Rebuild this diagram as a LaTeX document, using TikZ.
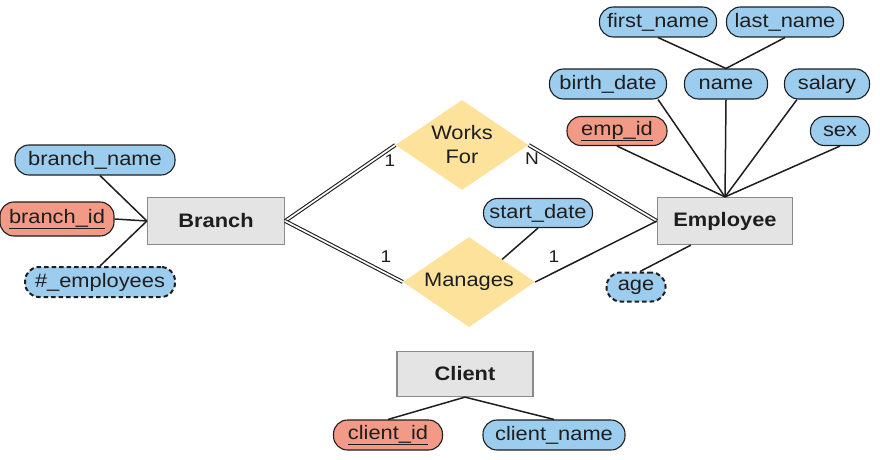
\documentclass[tikz,border=0pt]{standalone}
\usepackage{fontspec}
\setmainfont{Liberation Sans}[FakeStretch=1.12]
\usetikzlibrary{shapes.geometric,calc}
\definecolor{attrblue}{HTML}{9DCDEE}
\definecolor{keyred}{HTML}{F29A85}
\definecolor{relyellow}{HTML}{FCE29B}
\definecolor{entgray}{HTML}{E4E4E4}
\definecolor{entborder}{HTML}{8A8A8A}
\definecolor{inkdark}{HTML}{1E1E1E}
\begin{document}
\begin{tikzpicture}[x=1pt,y=-1pt,
  font=\fontsize{19.5}{24}\selectfont, text=inkdark,
  attr/.style={rectangle, rounded corners=14pt, draw=inkdark, line width=1.1pt, fill=attrblue, inner sep=0pt},
  keyattr/.style={attr, fill=keyred},
  derived/.style={attr, dashed, line width=2pt, dash pattern=on 4.5pt off 3pt},
  entity/.style={rectangle, draw=entborder, line width=1.2pt, fill=entgray, inner sep=0pt, font=\fontsize{19.5}{24}\selectfont\bfseries},
  rel/.style={diamond, aspect=1.5, fill=relyellow, inner sep=0pt, align=center},
  link/.style={draw=inkdark, line width=1.5pt},
  dlink/.style={draw=inkdark, line width=1.1pt, double=white, double distance=1.7pt},
  card/.style={font=\fontsize{17}{19}\selectfont, inner sep=0pt}
]
\useasboundingbox (0,0) rectangle (880,460);

% entities
\node[entity, minimum width=137pt, minimum height=47pt] (branch) at (216,221) {Branch};
\node[entity, minimum width=135pt, minimum height=47pt] (employee) at (725,221) {Employee};
\node[entity, minimum width=136pt, minimum height=45pt] (client) at (465,374) {Client};

% relationships
\node[rel, minimum width=133pt, minimum height=90pt] (worksfor) at (462,145) {Works\\For};
\node[rel, minimum width=132pt, minimum height=90pt] (manages) at (469,282) {Manages};

% branch attributes
\node[attr, minimum width=160pt, minimum height=30pt] (branchname) at (95,160) {branch\_name};
\node[keyattr, minimum width=114pt, minimum height=34pt] (branchid) at (57,219) {\underline{branch\_id}};
\node[derived, minimum width=150pt, minimum height=30pt] (numemp) at (100,282) {\#\_employees};

% employee attributes
\node[attr, minimum width=117pt, minimum height=30pt] (firstname) at (658,22) {first\_name};
\node[attr, minimum width=117pt, minimum height=30pt] (lastname) at (785,22) {last\_name};
\node[attr, minimum width=83pt, minimum height=30pt] (name) at (726,84) {name};
\node[attr, minimum width=117pt, minimum height=30pt] (birthdate) at (608,84) {birth\_date};
\node[attr, minimum width=85pt, minimum height=30pt] (salary) at (827,84) {salary};
\node[keyattr, minimum width=100pt, minimum height=29pt] (empid) at (617,131) {\underline{emp\_id}};
\node[attr, minimum width=59pt, minimum height=29pt] (sex) at (840,131) {sex};
\node[derived, minimum width=59pt, minimum height=29pt] (age) at (636,287) {age};

% relationship attribute
\node[attr, minimum width=109pt, minimum height=29pt] (startdate) at (538,213) {start\_date};

% client attributes
\node[keyattr, minimum width=109pt, minimum height=30pt] (clientid) at (388,435) {\underline{client\_id}};
\node[attr, minimum width=142pt, minimum height=30pt] (clientname) at (554,435) {client\_name};

% branch attribute links
\draw[link] ([xshift=5pt]branchname.south) -- (branch.west);
\draw[link] (branchid.east) -- (branch.west);
\draw[link] (numemp.north) -- (branch.west);

% employee attribute links
\draw[link] (firstname.south) -- (name.north);
\draw[link] (lastname.south) -- (name.north);
\draw[link] (name.south) -- (employee.north);
\draw[link] ([xshift=-9pt]birthdate.south east) -- (employee.north);
\draw[link] ([xshift=13pt]salary.south west) -- (employee.north);
\draw[link] (empid.south) -- (employee.north);
\draw[link] (sex.south) -- (employee.north);
\draw[link] ([xshift=4pt]age.north) -- ([xshift=34pt]employee.south west);

% relationship links
\draw[dlink] (branch.east) -- (worksfor.west);
\draw[dlink] (worksfor.east) -- (employee.west);
\draw[dlink] (branch.east) -- (manages.west);
\draw[link] (manages.east) -- (employee.west);
\draw[link] (startdate.south) -- (manages.north east);

% client links
\draw[link] (client.south) -- (clientid.north);
\draw[link] (client.south) -- (clientname.north);

% cardinalities
\node[card] (c1) at (390,161) {1};
\node[card] (c2) at (532,159) {N};
\node[card] (c3) at (386,257) {1};
\node[card] (c4) at (554,257) {1};
\end{tikzpicture}
\end{document}
